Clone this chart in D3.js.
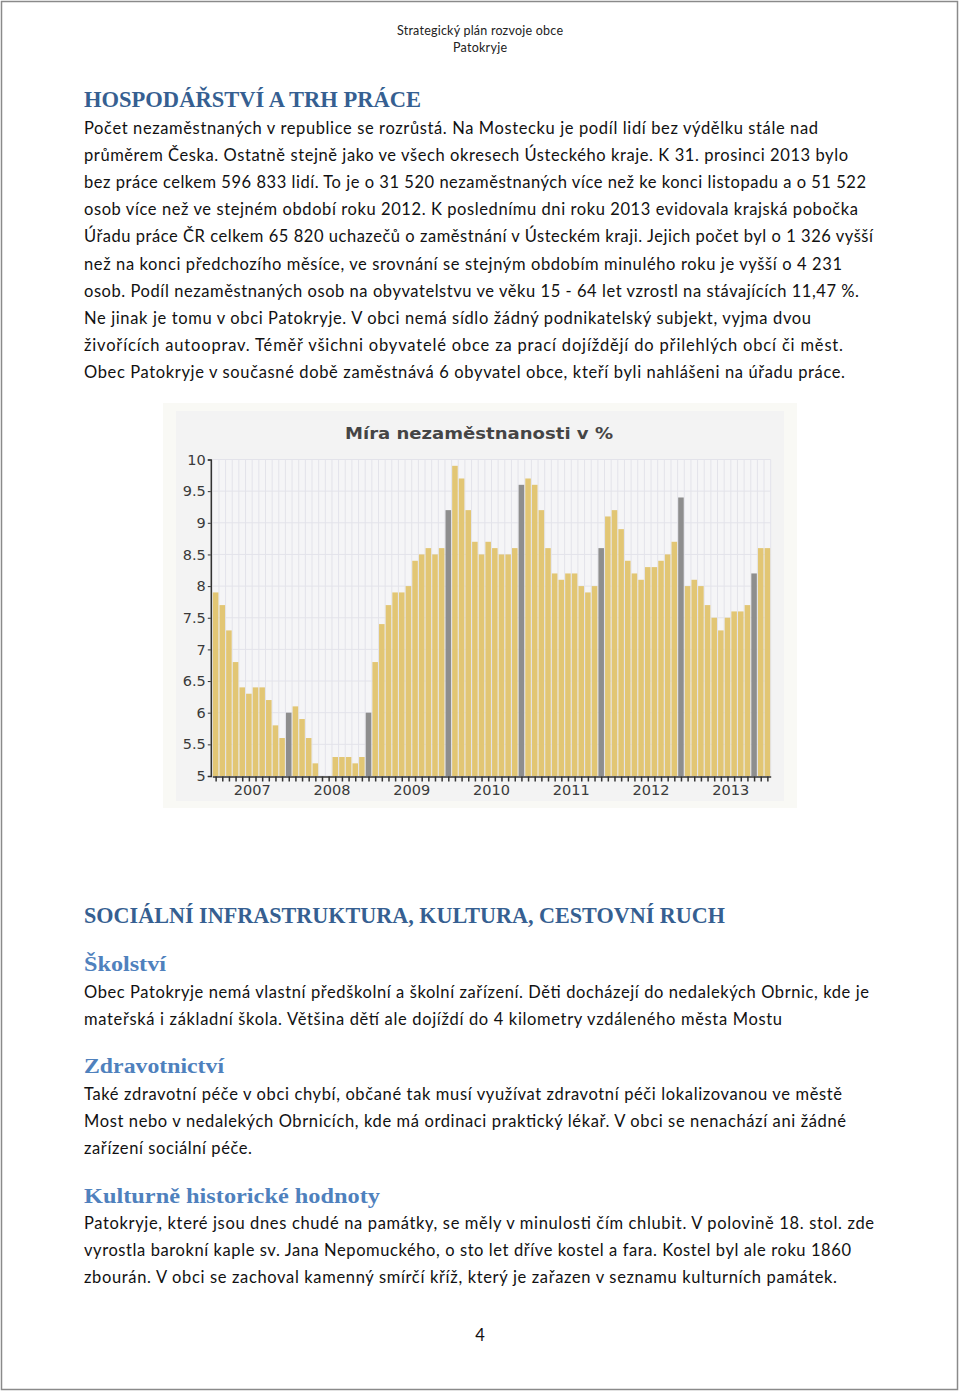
<!DOCTYPE html>
<html><head><meta charset="utf-8">
<script src="https://cdn.jsdelivr.net/npm/d3@7"></script>
<style>
html,body{margin:0;padding:0;background:#fff;}
svg{display:block;}
</style></head>
<body>
<svg id="page" width="960" height="1393"></svg>
<script>
// ---------------- DATA ----------------
const chartTitle = "Míra nezaměstnanosti v %";
const yearLabels = ["2007","2008","2009","2010","2011","2012","2013"];
const yTickValues = [5,5.5,6,6.5,7,7.5,8,8.5,9,9.5,10];
// monthly unemployment rate (%)
const rates = [
  7.9,7.7,7.3,6.8,6.4,6.3,6.4,6.4,6.2,5.8,5.6,6.0,
  6.1,5.9,5.6,5.2,5.0,5.0,5.3,5.3,5.3,5.2,5.3,6.0,
  6.8,7.4,7.7,7.9,7.9,8.0,8.4,8.5,8.6,8.5,8.6,9.2,
  9.9,9.7,9.2,8.7,8.5,8.7,8.6,8.5,8.5,8.6,9.6,
  9.7,9.6,9.2,8.6,8.2,8.1,8.2,8.2,8.0,7.9,8.0,8.6,
  9.1,9.2,8.9,8.4,8.2,8.1,8.3,8.3,8.4,8.5,8.7,9.4,
  8.0,8.1,8.0,7.7,7.5,7.3,7.5,7.6,7.6,7.7,8.2,
  8.6,8.6
];
// bars drawn in grey (index into rates)
const greyBars = [11,23,35,46,58,70,81];

const headerLines = ["Strategický plán rozvoje obce","Patokryje"];
const heading1 = "HOSPODÁŘSTVÍ A TRH PRÁCE";
const para1 = [
 "Počet nezaměstnaných v republice se rozrůstá. Na Mostecku je podíl lidí bez výdělku stále nad",
 "průměrem Česka. Ostatně stejně jako ve všech okresech Ústeckého kraje. K 31. prosinci 2013 bylo",
 "bez práce celkem 596 833 lidí. To je o 31 520 nezaměstnaných více než ke konci listopadu a o 51 522",
 "osob více než ve stejném období roku 2012. K poslednímu dni roku 2013 evidovala krajská pobočka",
 "Úřadu práce ČR celkem 65 820 uchazečů o zaměstnání v Ústeckém kraji. Jejich počet byl o 1 326 vyšší",
 "než na konci předchozího měsíce, ve srovnání se stejným obdobím minulého roku je vyšší o 4 231",
 "osob. Podíl nezaměstnaných osob na obyvatelstvu ve věku 15 - 64 let vzrostl na stávajících 11,47 %.",
 "Ne jinak je tomu v obci Patokryje. V obci nemá sídlo žádný podnikatelský subjekt, vyjma dvou",
 "živořících autooprav. Téměř všichni obyvatelé obce za prací dojíždějí do přilehlých obcí či měst.",
 "Obec Patokryje v současné době zaměstnává 6 obyvatel obce, kteří byli nahlášeni na úřadu práce."
];
const heading2 = "SOCIÁLNÍ INFRASTRUKTURA, KULTURA, CESTOVNÍ RUCH";
const sub1 = "Školství";
const para2 = [
 "Obec Patokryje nemá vlastní předškolní a školní zařízení. Děti docházejí do nedalekých Obrnic, kde je",
 "mateřská i základní škola. Většina dětí ale dojíždí do 4 kilometry vzdáleného města Mostu"
];
const sub2 = "Zdravotnictví";
const para3 = [
 "Také zdravotní péče v obci chybí, občané tak musí využívat zdravotní péči lokalizovanou ve městě",
 "Most nebo v nedalekých Obrnicích, kde má ordinaci praktický lékař. V obci se nenachází ani žádné",
 "zařízení sociální péče."
];
const sub3 = "Kulturně historické hodnoty";
const para4 = [
 "Patokryje, které jsou dnes chudé na památky, se měly v minulosti čím chlubit. V polovině 18. stol. zde",
 "vyrostla barokní kaple sv. Jana Nepomuckého, o sto let dříve kostel a fara. Kostel byl ale roku 1860",
 "zbourán. V obci se zachoval kamenný smírčí kříž, který je zařazen v seznamu kulturních památek."
];
const pageNumber = "4";

// ---------------- LAYOUT ----------------
const svg = d3.select("#page");
svg.append("rect").attr("x",1.5).attr("y",1.5).attr("width",956).attr("height",1388)
  .attr("fill","#fff").attr("stroke","#8a8a8a").attr("stroke-width",1.5);

const bodyFont = "Lato, 'Open Sans', sans-serif";
const headFont = "'Liberation Serif', 'DejaVu Serif', serif";
const axisFont = "'DejaVu Sans', Verdana, sans-serif";

function line(txt, x, y, opts){
  const t = svg.append("text").attr("x",x).attr("y",y).text(txt)
    .attr("font-family",opts.family||bodyFont).attr("font-size",opts.size||16.5)
    .attr("fill",opts.fill||"#111");
  if(opts.weight) t.attr("font-weight",opts.weight);
  if(opts.anchor) t.attr("text-anchor",opts.anchor);
  if(opts.len){ t.attr("textLength",opts.len).attr("lengthAdjust",opts.adjust||"spacing"); }
  return t;
}

// header
line(headerLines[0],480,35,{size:12.5,anchor:"middle",len:166,fill:"#222"});
line(headerLines[1],480,52,{size:12.5,anchor:"middle",len:54,fill:"#222"});

// heading 1
line(heading1,84,107,{family:headFont,size:24,weight:"bold",fill:"#365f91",len:337,adjust:"spacingAndGlyphs"});

const para1Ends = [818,848,866,858,873,842,859,811,843,845];
para1.forEach((s,i)=> line(s,84,134+i*27.1,{len:para1Ends[i]-84}));

// ---------------- CHART ----------------
const cx0=163, cy0=403, cw=634, ch=405;
svg.append("rect").attr("x",cx0).attr("y",cy0).attr("width",cw).attr("height",ch).attr("fill","#f9f9f5");
svg.append("rect").attr("x",176).attr("y",411).attr("width",608).attr("height",390).attr("fill","#f3f3f3");

const plotL=212.3, plotR=770.7, plotT=459.5, plotB=776;
const y = d3.scaleLinear().domain([5,10]).range([plotB,plotT]);
const xi = d3.scaleLinear().domain([0,rates.length]).range([plotL,plotR]);

// plot background + grid
svg.append("rect").attr("x",plotL).attr("y",plotT).attr("width",plotR-plotL).attr("height",plotB-plotT).attr("fill","#f5f5f7");
const grid = svg.append("g");
grid.selectAll("line.v").data(d3.range(rates.length+1)).join("line")
  .attr("x1",d=>xi(d)).attr("x2",d=>xi(d)).attr("y1",plotT).attr("y2",plotB)
  .attr("stroke","#e3e3ea").attr("stroke-width",1);
grid.selectAll("line.h").data(yTickValues).join("line")
  .attr("x1",plotL).attr("x2",plotR).attr("y1",d=>y(d)).attr("y2",d=>y(d))
  .attr("stroke","#e3e3ea").attr("stroke-width",1);

// bars
const greySet = new Set(greyBars);
svg.append("g").selectAll("rect").data(rates).join("rect")
  .attr("x",(d,i)=>xi(i)+0.55)
  .attr("width",(d,i)=>xi(i+1)-xi(i)-1.1)
  .attr("y",d=>y(Math.max(d,5)))
  .attr("height",d=>plotB-y(Math.max(d,5)))
  .attr("fill",(d,i)=>greySet.has(i)?"#8e8e8e":"#e2c674");

// axes
const yAxis = d3.axisLeft(y).tickValues(yTickValues).tickFormat(d3.format("")).tickSize(3).tickPadding(2);
const gy = svg.append("g").attr("transform",`translate(${plotL-1.5},0)`).call(yAxis);
gy.select(".domain").attr("stroke","#333").attr("stroke-width",1.5);
gy.selectAll(".tick line").attr("stroke","#333");
gy.selectAll("text").attr("font-family",axisFont).attr("font-size",14.5).attr("fill","#3a3a3a");

const xAxis = d3.axisBottom(xi).tickValues(d3.range(rates.length).map(i=>i+0.5)).tickFormat("").tickSize(5).tickSizeOuter(0);
const gx = svg.append("g").attr("transform",`translate(0,${plotB+0.5})`).call(xAxis);
gx.select(".domain").attr("stroke","#333").attr("stroke-width",1.5);
gx.selectAll(".tick line").attr("stroke","#333").attr("stroke-width",1.5);

// year labels through a band scale of years
const yearScale = d3.scaleBand().domain(yearLabels).range([xi(0),xi(84)]);
const gyr = svg.append("g").attr("transform",`translate(0,${plotB+1})`)
  .call(d3.axisBottom(yearScale).tickSize(0).tickPadding(8));
gyr.select(".domain").remove();
gyr.selectAll("text").attr("font-family",axisFont).attr("font-size",14.5).attr("fill","#3a3a3a");

// title
line(chartTitle,479,439,{family:axisFont,size:16.5,weight:"bold",anchor:"middle",fill:"#454545",len:268,adjust:"spacingAndGlyphs"});

// ---------------- SECOND SECTION ----------------
line(heading2,84,923,{family:headFont,size:24,weight:"bold",fill:"#365f91",len:641,adjust:"spacingAndGlyphs"});
line(sub1,84,971,{family:headFont,size:22,weight:"bold",fill:"#4f81bd",len:82,adjust:"spacingAndGlyphs"});
const para2Ends=[869,782];
para2.forEach((s,i)=> line(s,84,998+i*27.1,{len:para2Ends[i]-84}));
line(sub2,84,1073,{family:headFont,size:22,weight:"bold",fill:"#4f81bd",len:140,adjust:"spacingAndGlyphs"});
const para3Ends=[842,846,252];
para3.forEach((s,i)=> line(s,84,1100+i*27.1,{len:para3Ends[i]-84}));
line(sub3,84,1203,{family:headFont,size:22,weight:"bold",fill:"#4f81bd",len:296,adjust:"spacingAndGlyphs"});
const para4Ends=[874,851,837];
para4.forEach((s,i)=> line(s,84,1229+i*27.1,{len:para4Ends[i]-84}));

line(pageNumber,480,1341,{size:16.5,anchor:"middle"});
</script>
</body></html>
